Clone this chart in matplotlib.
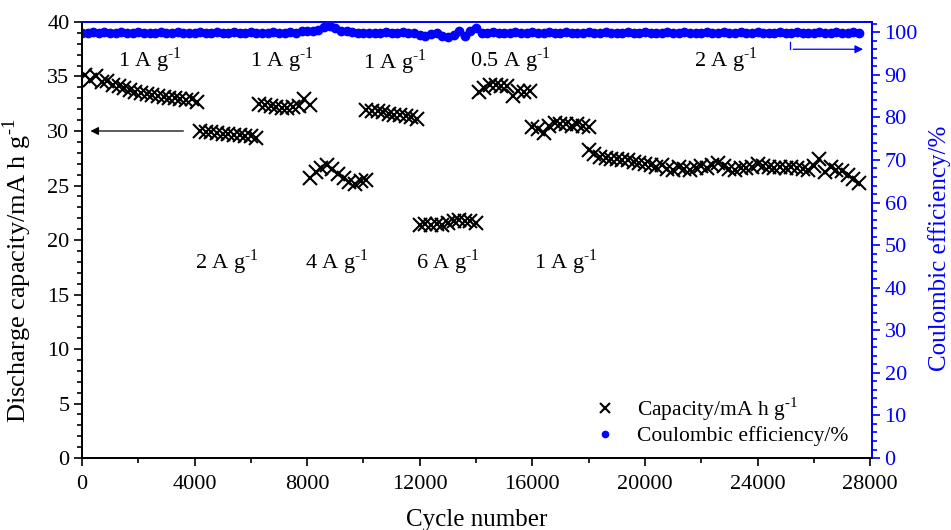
import numpy as np
import matplotlib
matplotlib.use('Agg')
import matplotlib.pyplot as plt
from matplotlib.ticker import MultipleLocator

plt.rcParams['font.family'] = ['Liberation Serif', 'DejaVu Serif']
plt.rcParams['mathtext.fontset'] = 'custom'
plt.rcParams['mathtext.rm'] = 'Liberation Serif'

# discharge capacity, one list per rate step (cycle numbers every 200 cycles)
cyc_1a = np.arange(100, 4101, 200)
cap_1a = [35.1, 34.7, 35.0, 34.5, 34.6, 34.2, 34.1, 33.9, 33.8, 33.6, 33.5,
          33.4, 33.3, 33.2, 33.1, 33.0, 33.0, 32.9, 32.8, 32.9, 32.7]
cyc_2a = np.arange(4200, 6201, 200)
cap_2a = [30.0, 29.9, 29.9, 29.8, 29.7, 29.7, 29.6, 29.6, 29.5, 29.5, 29.4]
cyc_1a_b = np.arange(6300, 8101, 200)
cap_1a_b = [32.5, 32.4, 32.3, 32.2, 32.1, 32.1, 32.2, 32.3, 32.9, 32.4]
cyc_4a = np.arange(8100, 10101, 200)
cap_4a = [25.7, 26.2, 26.6, 26.9, 26.5, 26.1, 25.7, 25.3, 25.1, 25.4, 25.5]
cyc_1a_c = np.arange(10100, 11901, 200)
cap_1a_c = [31.9, 31.8, 31.8, 31.7, 31.6, 31.5, 31.5, 31.4, 31.3, 31.1]
cyc_6a = np.arange(12000, 14001, 200)
cap_6a = [21.4, 21.5, 21.4, 21.5, 21.4, 21.6, 21.7, 21.8, 21.7, 21.7, 21.6]
cyc_05a = np.arange(14100, 15901, 200)
cap_05a = [33.6, 33.9, 34.2, 34.2, 34.1, 34.1, 33.2, 33.7, 33.6, 33.7]
cyc_1a_d = np.arange(16000, 18001, 200)
cap_1a_d = [30.4, 30.2, 29.8, 30.5, 30.7, 30.6, 30.6, 30.5, 30.6, 30.5, 30.4]
cyc_2a_b = np.arange(18000, 27601, 200)
cap_2a_b = [28.3, 27.9, 27.6, 27.5, 27.4, 27.4, 27.3, 27.3, 27.2, 27.1,
            27.0, 26.9, 26.7, 26.9, 26.5, 26.4, 26.7, 26.5, 26.4, 26.6,
            26.8, 26.6, 26.9, 27.1, 26.8, 26.5, 26.4, 26.6, 26.6, 26.7,
            27.0, 26.8, 26.7, 26.6, 26.7, 26.6, 26.7, 26.6, 26.5, 26.4,
            26.8, 27.4, 26.2, 26.7, 26.4, 26.3, 26.0, 25.6, 25.2]

cycles = np.concatenate([cyc_1a, cyc_2a, cyc_1a_b, cyc_4a, cyc_1a_c,
                         cyc_6a, cyc_05a, cyc_1a_d, cyc_2a_b])
capacity = np.concatenate([cap_1a, cap_2a, cap_1a_b, cap_4a, cap_1a_c,
                           cap_6a, cap_05a, cap_1a_d, cap_2a_b])

# coulombic efficiency (%), cycles 0..27600 every 200
ce_cycles = np.arange(0, 27601, 200)
ce = [99.8, 99.9, 100.0, 99.9, 100.0, 99.8, 99.9, 100.0, 99.9, 99.9,
      100.0, 99.9, 99.8, 99.9, 100.0, 99.9, 99.9, 100.0, 99.9, 99.8,
      99.9, 100.0, 99.9, 99.9, 100.0, 99.8, 99.9, 100.0, 99.9, 99.9,
      100.0, 99.9, 99.8, 99.9, 100.0, 99.9, 99.9, 100.0, 99.9, 100.2,
      100.3, 100.2, 100.5, 101.2, 101.5, 100.9, 100.4, 100.2, 100.0, 99.8,
      99.7, 99.8, 99.9, 99.9, 100.0, 99.9, 99.9, 100.0, 99.9, 99.8,
      99.4, 99.2, 99.5, 99.9, 99.0, 98.9, 99.4, 100.3, 99.0, 100.4,
      101.0, 99.7, 99.9, 100.0, 99.9, 99.8, 99.9, 100.0, 99.9, 99.9,
      100.0, 99.8, 99.9, 100.0, 99.9, 99.9, 100.0, 99.9, 99.8, 99.9,
      100.0, 99.9, 99.9, 100.0, 99.9, 99.8, 99.9, 100.0, 99.9, 99.9,
      100.0, 99.9, 99.8, 99.9, 100.0, 99.9, 99.9, 100.0, 99.9, 99.8,
      99.9, 100.0, 99.9, 99.9, 100.0, 99.8, 99.9, 100.0, 99.9, 99.9,
      100.0, 99.9, 99.8, 99.9, 100.0, 99.9, 99.9, 100.0, 99.9, 99.8,
      99.9, 100.0, 99.9, 99.9, 100.0, 99.8, 99.9, 100.0, 99.8]

# current-density labels: text, cycle, capacity
sup = 'g$^{\\text{-1}}$'
rate_text = ['1 A ' + sup] * 3 + ['0.5 A ' + sup, '2 A ' + sup, '2 A ' + sup,
                                  '4 A ' + sup, '6 A ' + sup, '1 A ' + sup]
rate_x = [2410, 7120, 11130, 15210, 22870, 5150, 9050, 13000, 17190]
rate_y = [36.5, 36.5, 36.3, 36.5, 36.5, 18.0, 18.0, 18.0, 18.0]

blue = '#0000ff'

fig = plt.figure(figsize=(9.51, 5.30), dpi=100)
ax = fig.add_axes([0.0862, 0.1358, 0.8308, 0.8227])
ax2 = ax.twinx()

ax.plot(cycles, capacity, ls='', marker='x', ms=10, mew=1.5, color='k',
        label='Capacity/mA h ' + sup, zorder=3)
ax2.plot(ce_cycles, ce, ls='', marker='o', ms=6, color=blue, mec=blue,
         label='Coulombic efficiency/%')

ax.set_xlim(0, 28070)
ax.set_ylim(0, 40)
ax2.set_ylim(0, 102.4)

ax.xaxis.set_major_locator(MultipleLocator(4000))
ax.xaxis.set_minor_locator(MultipleLocator(2000))
ax.yaxis.set_major_locator(MultipleLocator(5))
ax.yaxis.set_minor_locator(MultipleLocator(1))
ax2.yaxis.set_major_locator(MultipleLocator(10))
ax2.yaxis.set_minor_locator(MultipleLocator(2))

ax.tick_params(which='both', direction='out', labelsize=16, width=1.2)
ax.tick_params(which='major', length=6)
ax.tick_params(which='minor', length=3.5)
ax.tick_params(axis='x', pad=6)
ax.tick_params(axis='y', pad=3)
ax2.tick_params(which='both', direction='out', colors=blue, labelsize=16,
                width=1.2, pad=3)
ax2.tick_params(which='major', length=6)
ax2.tick_params(which='minor', length=3.5)

for a in (ax, ax2):
    for s in a.spines.values():
        s.set_linewidth(1.3)
ax2.spines['right'].set_color(blue)
ax2.spines['top'].set_color(blue)
ax.spines['top'].set_color(blue)

ax.set_xlabel('Cycle number', fontsize=18)
ax.xaxis.set_label_coords(0.5, -0.118)
ax.set_ylabel('Discharge capacity/mA h ' + sup, fontsize=19)
ax.yaxis.set_label_coords(-0.061, 0.43)
ax2.set_ylabel('Coulombic efficiency/%', fontsize=18, color=blue)
ax2.yaxis.set_label_coords(1.071, 0.48)

for t, x, y in zip(rate_text, rate_x, rate_y):
    ax.text(x, y, t, ha='center', va='center', fontsize=16)

# arrows pointing each series to its axis
ax.annotate('', xy=(200, 30), xytext=(3700, 30),
            arrowprops=dict(arrowstyle='-|>', color='k', lw=0.9,
                            mutation_scale=12))
ax2.plot([25170, 25170], [97.6, 96.0], color=blue, lw=0.9)
ax2.annotate('', xy=(27850, 96.0), xytext=(25170, 96.0),
             arrowprops=dict(arrowstyle='-|>', color=blue, lw=0.9,
                             mutation_scale=12))

h1, l1 = ax.get_legend_handles_labels()
h2, l2 = ax2.get_legend_handles_labels()
ax2.legend(h1 + h2, l1 + l2, loc='lower right', frameon=False, fontsize=15.5,
           bbox_to_anchor=(0.995, -0.018), markerscale=0.75,
           handletextpad=0.7, handlelength=1.6, labelspacing=0.15)

fig.savefig('out.png', dpi=100)
